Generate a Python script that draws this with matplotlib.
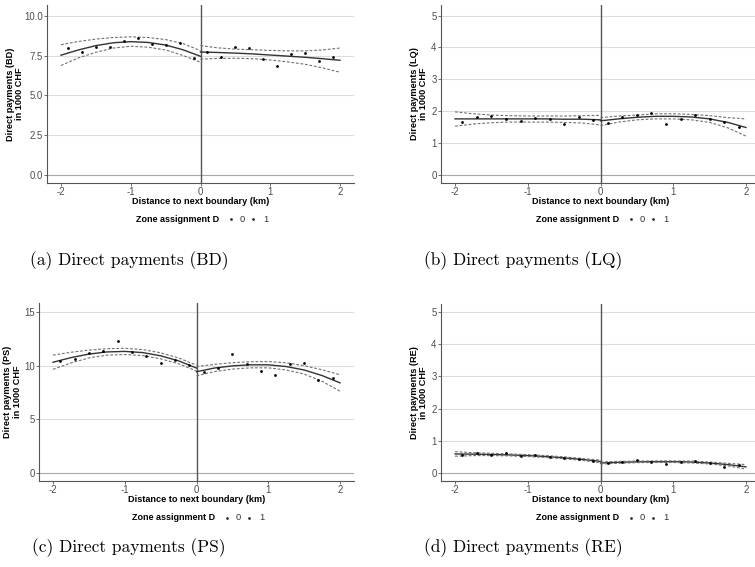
import matplotlib.pyplot as plt
from matplotlib.lines import Line2D

plt.rcParams['font.family'] = ['Liberation Sans', 'DejaVu Sans']
plt.rcParams['axes.unicode_minus'] = False

# bin centres of the scatter points and x grid of the fitted curves
bin_x = [-1.9, -1.7, -1.5, -1.3, -1.1, -0.9, -0.7, -0.5, -0.3, -0.1,
         0.1, 0.3, 0.5, 0.7, 0.9, 1.1, 1.3, 1.5, 1.7, 1.9]
curve_left_x = [-2, -1.75, -1.5, -1.25, -1, -0.75, -0.5, -0.25, 0]
curve_right_x = [0, 0.25, 0.5, 0.75, 1, 1.25, 1.5, 1.75, 2]

# (a) BD
bd_points = [7.99, 7.74, 8.05, 8.03, 8.41, 8.62, 8.20, 8.16, 8.28, 7.32,
             7.72, 7.38, 8.05, 7.97, 7.30, 6.84, 7.57, 7.66, 7.18, 7.41]
bd_fit_left = [7.52, 7.85, 8.12, 8.30, 8.37, 8.32, 8.16, 7.86, 7.45]
bd_upper_left = [8.18, 8.38, 8.53, 8.63, 8.67, 8.63, 8.50, 8.25, 7.80]
bd_lower_left = [6.87, 7.35, 7.70, 7.97, 8.08, 8.02, 7.85, 7.50, 7.08]
bd_fit_right = [7.72, 7.69, 7.65, 7.60, 7.53, 7.46, 7.39, 7.30, 7.20]
bd_upper_right = [8.12, 7.98, 7.90, 7.86, 7.82, 7.79, 7.79, 7.85, 7.97]
bd_lower_right = [7.27, 7.32, 7.33, 7.30, 7.22, 7.10, 6.95, 6.72, 6.45]

# (b) LQ
lq_points = [1.65, 1.83, 1.85, 1.77, 1.69, 1.78, 1.76, 1.61, 1.83, 1.72,
             1.62, 1.83, 1.87, 1.94, 1.61, 1.75, 1.87, 1.75, 1.65, 1.52]
lq_fit_left = [1.76, 1.76, 1.76, 1.76, 1.76, 1.76, 1.75, 1.75, 1.73]
lq_upper_left = [1.98, 1.92, 1.88, 1.86, 1.85, 1.85, 1.85, 1.86, 1.87]
lq_lower_left = [1.53, 1.60, 1.64, 1.66, 1.66, 1.66, 1.65, 1.63, 1.57]
lq_fit_right = [1.70, 1.76, 1.81, 1.84, 1.84, 1.82, 1.76, 1.65, 1.49]
lq_upper_right = [1.80, 1.85, 1.88, 1.92, 1.92, 1.90, 1.86, 1.80, 1.76]
lq_lower_right = [1.55, 1.66, 1.73, 1.76, 1.76, 1.73, 1.65, 1.48, 1.22]

# (c) PS
ps_points = [10.40, 10.65, 11.18, 11.40, 12.30, 11.27, 10.87, 10.28, 10.56, 10.09,
             9.41, 9.78, 11.06, 10.12, 9.53, 9.13, 10.12, 10.28, 8.63, 8.88]
ps_fit_left = [10.32, 10.75, 11.08, 11.28, 11.33, 11.22, 10.92, 10.45, 9.78]
ps_upper_left = [10.98, 11.25, 11.45, 11.58, 11.62, 11.50, 11.20, 10.72, 10.05]
ps_lower_left = [9.66, 10.25, 10.72, 10.98, 11.04, 10.94, 10.64, 10.18, 9.50]
ps_fit_right = [9.44, 9.78, 9.98, 10.08, 10.08, 9.92, 9.60, 9.08, 8.40]
ps_upper_right = [9.92, 10.12, 10.28, 10.37, 10.38, 10.27, 10.00, 9.62, 9.15]
ps_lower_right = [9.05, 9.45, 9.68, 9.80, 9.80, 9.60, 9.22, 8.55, 7.62]

# (d) RE
re_points = [0.56, 0.63, 0.56, 0.63, 0.54, 0.56, 0.51, 0.47, 0.43, 0.38,
             0.32, 0.33, 0.41, 0.34, 0.27, 0.33, 0.38, 0.30, 0.20, 0.24]
re_fit_left = [0.59, 0.585, 0.575, 0.56, 0.54, 0.51, 0.47, 0.42, 0.36]
re_upper_left = [0.66, 0.63, 0.61, 0.59, 0.57, 0.54, 0.50, 0.45, 0.40]
re_lower_left = [0.52, 0.54, 0.54, 0.53, 0.51, 0.48, 0.44, 0.39, 0.32]
re_fit_right = [0.31, 0.33, 0.345, 0.35, 0.35, 0.34, 0.31, 0.26, 0.19]
re_upper_right = [0.34, 0.36, 0.37, 0.375, 0.375, 0.37, 0.34, 0.30, 0.26]
re_lower_right = [0.28, 0.30, 0.32, 0.325, 0.325, 0.31, 0.28, 0.22, 0.12]

x_ticks = [-2, -1, 0, 1, 2]
x_tick_labels = ['-2', '-1', '0', '1', '2']

W, H = 755, 567

panels = [
    dict(code='BD', caption='(a) Direct payments (BD)', points=bd_points,
         left=(bd_fit_left, bd_upper_left, bd_lower_left),
         right=(bd_fit_right, bd_upper_right, bd_lower_right),
         rect=(47.0, 5, 354.0, 183), ylim=(-0.5, 10.67),
         yticks=[0, 2.5, 5, 7.5, 10], ylabels=['0.0', '2.5', '5.0', '7.5', '10.0'],
         ylab_off=-23, xlab_off=18, leg_off=36, cap=(129, 261)),
    dict(code='LQ', caption='(b) Direct payments (LQ)', points=lq_points,
         left=(lq_fit_left, lq_upper_left, lq_lower_left),
         right=(lq_fit_right, lq_upper_right, lq_lower_right),
         rect=(440.5, 5, 760.5, 183), ylim=(-0.25, 5.33),
         yticks=[0, 1, 2, 3, 4, 5], ylabels=['0', '1', '2', '3', '4', '5'],
         ylab_off=-12, xlab_off=18, leg_off=36, cap=(523, 261)),
    dict(code='PS', caption='(c) Direct payments (PS)', points=ps_points,
         left=(ps_fit_left, ps_upper_left, ps_lower_left),
         right=(ps_fit_right, ps_upper_right, ps_lower_right),
         rect=(38.65, 303, 354.35, 481), ylim=(-0.745, 15.84),
         yticks=[0, 5, 10, 15], ylabels=['0', '5', '10', '15'],
         ylab_off=-17, xlab_off=18, leg_off=37, cap=(129, 548)),
    dict(code='RE', caption='(d) Direct payments (RE)', points=re_points,
         left=(re_fit_left, re_upper_left, re_lower_left),
         right=(re_fit_right, re_upper_right, re_lower_right),
         rect=(440.5, 304, 760.5, 481), ylim=(-0.25, 5.25),
         yticks=[0, 1, 2, 3, 4, 5], ylabels=['0', '1', '2', '3', '4', '5'],
         ylab_off=-12, xlab_off=18, leg_off=37, cap=(523, 548)),
]

fig = plt.figure(figsize=(W / 100, H / 100), dpi=100)

PT = 0.72  # points per pixel at 100 dpi
label_size = 6.6

for p in panels:
    l, t, r, b = p['rect']
    ax = fig.add_axes([l / W, 1 - b / H, (r - l) / W, (b - t) / H])
    ax.set_xlim(-2.2, 2.2)
    ax.set_ylim(*p['ylim'])

    # grid and frame
    for y in p['yticks']:
        ax.axhline(y, color='#dcdcdc' if y != 0 else '#a8a8a8', lw=0.8, zorder=0)
    ax.axvline(0, color='#555555', lw=1.0, zorder=1)
    for s in ['top', 'right']:
        ax.spines[s].set_visible(False)
    for s in ['left', 'bottom']:
        ax.spines[s].set_color('#555555')
        ax.spines[s].set_linewidth(0.8)

    # fitted curves and confidence bands
    for cx, (fit, up, lo) in [(curve_left_x, p['left']), (curve_right_x, p['right'])]:
        ax.plot(cx, fit, color='#333333', lw=1.0, zorder=3)
        ax.plot(cx, up, color='#707070', lw=0.8, ls=(0, (2.5, 1.6)), zorder=3)
        ax.plot(cx, lo, color='#707070', lw=0.8, ls=(0, (2.5, 1.6)), zorder=3)
    ax.plot(bin_x, p['points'], 'o', color='black', ms=2.0, mew=0, zorder=4)

    ax.set_xticks(x_ticks)
    ax.set_xticklabels(x_tick_labels)
    ax.set_yticks(p['yticks'])
    ax.set_yticklabels(p['ylabels'])
    ax.tick_params(colors='#555555', labelcolor='#4d4d4d', labelsize=6.9,
                   length=2, width=0.6, pad=0.8)

    ax.set_ylabel('Direct payments (%s)\nin 1000 CHF' % p['code'], fontsize=label_size,
                  fontweight='bold', linespacing=1.05)
    ax.yaxis.set_label_coords(p['ylab_off'] / (r - l), 0.5)

    ax.annotate('Distance to next boundary (km)', xy=(0.5, 0), xycoords='axes fraction',
                xytext=(0, -p['xlab_off'] * PT), textcoords='offset points',
                ha='center', va='center', fontsize=label_size, fontweight='bold')

    # legend row: title, then dots with labels
    dy = -p['leg_off'] * PT
    ax.annotate('Zone assignment D', xy=(0.5, 0), xycoords='axes fraction',
                xytext=(19 * PT, dy), textcoords='offset points',
                ha='right', va='center', fontsize=6.5, fontweight='bold')
    for dx_dot, dx_txt, txt in [(30, 41.5, '0'), (52.5, 65, '1')]:
        ax.annotate(txt, xy=(0.5, 0), xycoords='axes fraction',
                    xytext=(dx_txt * PT, dy), textcoords='offset points',
                    ha='center', va='center', fontsize=6.7, color='#333333')
        dot = Line2D([(l + r) / 2 + dx_dot], [H - (b + p['leg_off'])], marker='o',
                     ms=2.0, mew=0, color='#333333', transform=None)
        fig.add_artist(dot)

    fig.text(p['cap'][0] / W, 1 - p['cap'][1] / H, p['caption'], family='cmr10',
             fontsize=12.5, ha='center', va='center')

fig.savefig('out.png', dpi=100)
